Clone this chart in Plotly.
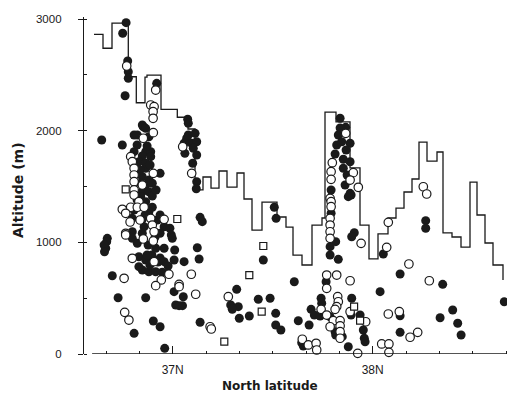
import plotly.graph_objects as go

# Step line: maximum altitude per latitude band (level holds until next edge)
step_lat = [36.6065, 36.6515, 36.6965, 36.778, 36.818, 36.8615, 36.8715, 36.9415, 37.023, 37.0765,
            37.1115, 37.1515, 37.1915, 37.2315, 37.2715, 37.3215, 37.3565, 37.3965, 37.4465, 37.5215,
            37.5665, 37.6015, 37.6465, 37.6965, 37.7465, 37.7615, 37.8165, 37.8865, 37.9365, 37.9815,
            38.0265, 38.0765, 38.1165, 38.1565, 38.1965, 38.2315, 38.2715, 38.3215, 38.3515, 38.3965,
            38.4415, 38.4865, 38.5215, 38.5615, 38.6015, 38.6515]
step_alt = [2863, 2738, 2964, 2483, 2250, 2480, 2498, 2191, 2120, 2015,
            1469, 1585, 1486, 1639, 1495, 1621, 1388, 1110, 1361, 1227,
            1137, 886, 797, 1155, 1218, 2167, 2078, 1666, 1155, 851,
            1075, 1218, 1307, 1451, 1567, 1898, 1728, 1809, 1084, 1048,
            958, 1540, 1245, 994, 797, 663]

filled_lat = [36.767, 36.750, 36.775, 36.778, 36.778, 36.762, 36.645, 36.748, 36.920, 36.853,
              37.075, 37.078, 36.848, 36.865, 36.807, 36.823, 36.881, 36.807, 36.865, 36.890,
              36.848, 36.890, 36.831, 36.865, 36.865, 36.937, 36.848, 36.881, 36.840, 36.865,
              36.898, 36.848, 36.881, 36.840, 36.898, 36.865, 36.807, 36.898, 36.881, 36.798,
              36.848, 36.923, 37.137, 37.148, 36.857, 36.957, 36.986, 36.798, 36.848, 36.937,
              36.993, 36.673, 37.078, 37.112, 37.070, 37.095, 37.120, 37.103, 37.061, 37.120,
              37.100, 37.120, 37.118, 37.057, 36.670, 36.665, 36.657, 36.659, 36.798, 36.823,
              36.915, 36.957, 36.998, 37.010, 37.123, 36.831, 36.865, 36.957, 37.007, 37.057,
              37.132, 36.698, 36.848, 36.881, 36.915, 36.948, 36.831, 37.007, 37.053, 36.727,
              36.865, 37.015, 37.032, 37.049, 36.903, 36.937, 37.137, 36.807, 36.960, 36.877,
              36.896, 36.926, 36.977, 36.886,
              36.822, 36.872, 36.837, 36.887, 36.917, 36.822, 36.862, 36.937, 36.912, 36.872,
              36.937,
              37.320, 37.290, 37.328, 37.298, 37.333, 37.383, 37.428, 37.487, 37.453, 37.508,
              37.517, 37.608, 37.515, 37.515, 37.541, 37.628, 37.682, 37.645, 37.653, 37.692,
              37.708, 37.737, 37.742, 37.745, 37.767,
              37.837, 37.865, 37.828, 37.887, 37.820, 37.845, 37.812, 37.853, 37.887, 37.853,
              37.862, 37.792, 37.887, 37.792, 37.815, 37.787, 37.787, 37.828, 37.908, 37.895,
              37.892, 37.878, 37.867, 37.837, 37.872,
              37.895, 37.892, 37.937, 37.953, 37.958, 37.962, 37.878, 37.787, 37.812, 37.815,
              37.848, 38.053, 38.137, 38.350, 38.037, 38.658, 38.137, 38.400, 38.337, 38.425,
              38.442, 38.137, 38.265, 38.265]
filled_alt = [2967, 2872, 2624, 2528, 2469, 2313, 1916, 1872, 2424, 2035,
              2102, 2066, 2051, 2021, 1961, 1961, 1946, 1812, 1812, 1812,
              1773, 1767, 1722, 1708, 1663, 1618, 1588, 1558, 1529, 1513,
              1529, 1453, 1453, 1409, 1415, 1364, 1290, 1314, 1274, 1215,
              1206, 1200, 1224, 1185, 1140, 1140, 1126, 1095, 1081, 1081,
              1066, 1036, 1961, 1976, 1932, 1887, 1901, 1842, 1797, 1782,
              1708, 1543, 1480, 1887, 1006, 947, 976, 916, 1036, 991,
              947, 947, 1036, 931, 952, 871, 842, 827, 842, 827,
              851, 701, 752, 737, 737, 732, 782, 558, 513, 504,
              504, 439, 433, 433, 296, 244, 284, 185, 51, 976,
              887, 824, 788, 797,
              1872, 1863, 1648, 1693, 1469, 1379, 1245, 1245, 1048, 887,
              860,
              579, 439, 424, 400, 320, 340, 490, 499, 842, 1314,
              1215, 647, 364, 260, 215, 298, 260, 101, 72, 400,
              349, 340, 499, 454, 647,
              2111, 2030, 1961, 1887, 1872, 1901, 1791, 1744, 1722, 1663,
              1513, 1469, 1439, 1260, 1006, 961, 887, 848, 1086, 1050,
              1424, 1409, 1827, 2024, 1603,
              499, 349, 349, 215, 141, 110, 65, 334, 200, 170,
              155, 896, 716, 624, 558, 468, 343, 394, 325, 275,
              170, 194, 1194, 1126]

open_lat = [36.770, 36.915, 36.890, 36.907, 36.902, 36.902, 36.903, 36.853, 36.790, 36.798,
            36.807, 36.903, 36.807, 36.807, 36.848, 36.807, 36.807, 36.831, 36.748, 36.790,
            36.823, 36.857, 36.765, 36.890, 36.957, 36.898, 36.765, 36.907, 37.050, 37.095,
            36.765, 36.853, 36.903, 36.798, 36.907, 36.757, 36.981, 37.093, 36.943, 37.032,
            37.032, 36.915, 37.115, 36.760, 36.781, 37.187, 37.193, 37.278, 37.648, 37.678,
            37.717, 37.720, 37.742, 37.770, 37.820, 37.887, 37.770, 37.865, 37.798, 37.792,
            37.903, 37.792, 37.887, 37.928, 37.787, 37.792, 37.792, 37.787, 37.787, 37.787,
            37.787, 37.942, 37.825, 37.828, 37.820, 37.812, 37.770, 37.803, 37.837, 37.787,
            37.837, 37.837, 37.837, 37.887, 37.965, 37.925, 38.078, 38.070, 38.181, 38.283,
            38.078, 38.133, 38.187, 38.225, 38.045, 38.081, 38.081, 38.253, 38.270,
            36.837, 36.787]
open_alt = [2579, 2364, 2230, 2215, 2170, 2111, 1982, 1932, 1767, 1722,
            1663, 1618, 1603, 1543, 1513, 1469, 1424, 1364, 1296, 1314,
            1314, 1314, 1260, 1215, 1206, 1155, 1081, 1095, 1856, 1618,
            1066, 1030, 1012, 857, 827, 678, 714, 714, 663, 624,
            603, 612, 535, 373, 304, 244, 224, 513, 132, 81,
            96, 36, 400, 707, 707, 656, 588, 1976, 1713, 1633,
            1624, 1564, 1558, 1493, 1394, 1364, 1319, 1215, 1155, 1095,
            1036, 991, 513, 468, 424, 400, 349, 298, 298, 244,
            251, 200, 141, 379, 289, 6, 1179, 955, 806, 656,
            358, 379, 150, 194, 90, 90, 15, 1498, 1433,
            1200, 1182]

square_lat = [36.765, 37.023, 37.258, 37.383, 37.453, 37.445, 37.907, 37.937]
square_alt = [1475, 1209, 110, 707, 967, 379, 424, 298]

x_major_vals = [37, 38]
x_major_text = ["37N", "38N"]
x_minor_vals = [36.6667, 36.8333, 37.1667, 37.3333, 37.5, 37.6667, 37.8333,
                38.1667, 38.3333, 38.5, 38.6667]
y_major_vals = [0, 1000, 2000, 3000]

ink = "#1a1a1a"

fig = go.Figure()
fig.add_trace(go.Scatter(x=step_lat, y=step_alt, mode="lines", line_shape="hv",
                         line=dict(color=ink, width=1.3), hoverinfo="skip", showlegend=False))
fig.add_trace(go.Scatter(x=filled_lat, y=filled_alt, mode="markers", cliponaxis=False,
                         marker=dict(size=9, color=ink, line=dict(width=0)), showlegend=False))
fig.add_trace(go.Scatter(x=open_lat, y=open_alt, mode="markers", cliponaxis=False,
                         marker=dict(size=8.5, color="white", line=dict(width=1.2, color=ink)),
                         showlegend=False))
fig.add_trace(go.Scatter(x=square_lat, y=square_alt, mode="markers", cliponaxis=False,
                         marker=dict(symbol="square", size=7, color="white",
                                     line=dict(width=1.2, color=ink)), showlegend=False))

# x-axis baseline (starts slightly right of the y-axis, as in the original)
fig.add_shape(type="line", xref="x", yref="y", x0=36.597, x1=38.7115, y0=0, y1=0,
              line=dict(color=ink, width=1.3))

# The page body adds an 8px offset, so the figure is 8px smaller with 8px less left/top margin.
fig.update_layout(
    width=507, height=385,
    margin=dict(l=76, r=0, t=9, b=39),
    paper_bgcolor="white", plot_bgcolor="white",
    font=dict(family="Liberation Sans, Arial", color=ink, size=11.5),
    xaxis=dict(range=[36.5565, 38.7115], showgrid=False, zeroline=False, showline=False,
               tickmode="array", tickvals=x_major_vals, ticktext=x_major_text,
               ticks="inside", ticklen=8, tickwidth=1.2, tickcolor=ink,
               ticklabelstandoff=7, tickfont=dict(size=12),
               minor=dict(tickmode="array", tickvals=x_minor_vals, ticks="inside",
                          ticklen=3, tickwidth=1.1, tickcolor=ink)),
    yaxis=dict(range=[0, 3018], showgrid=False, zeroline=False, showline=True,
               linecolor=ink, linewidth=1.3,
               tickmode="array", tickvals=y_major_vals,
               ticks="outside", ticklen=5, tickwidth=1.2, tickcolor=ink,
               ticklabelstandoff=14, tickfont=dict(size=11.5),
               minor=dict(dtick=500, tick0=0, ticks="inside", ticklen=3,
                          tickwidth=1.1, tickcolor=ink)),
    annotations=[
        dict(text="Altitude (m)", xref="paper", yref="paper", x=-0.1531, y=0.4866,
             textangle=-90, showarrow=False, xanchor="center", yanchor="middle",
             font=dict(family="DejaVu Sans", size=14, color=ink, weight="bold")),
        dict(text="North latitude", xref="paper", yref="paper", x=0.4316, y=-0.094,
             showarrow=False, xanchor="center", yanchor="middle",
             font=dict(family="DejaVu Sans", size=12, color=ink, weight="bold")),
    ],
)

fig.write_html("out.html")
